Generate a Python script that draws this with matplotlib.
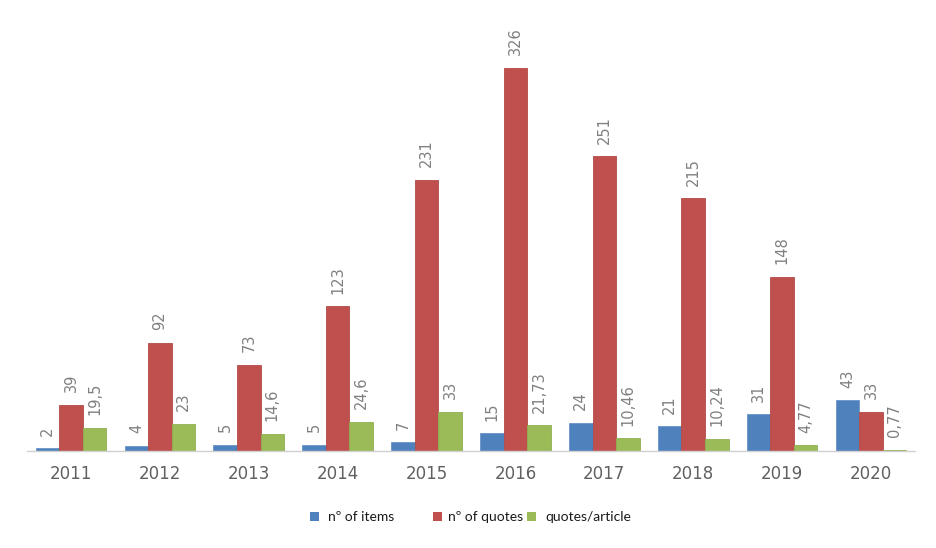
import matplotlib
matplotlib.use("Agg")
import matplotlib.pyplot as plt
from matplotlib.patches import Rectangle
import numpy as np

years = ["2011", "2012", "2013", "2014", "2015", "2016", "2017", "2018", "2019", "2020"]
items = [2, 4, 5, 5, 7, 15, 24, 21, 31, 43]
quotes = [39, 92, 73, 123, 231, 326, 251, 215, 148, 33]
qpa = [19.5, 23, 14.6, 24.6, 33, 21.73, 10.46, 10.24, 4.77, 0.77]
items_lbl = ["2", "4", "5", "5", "7", "15", "24", "21", "31", "43"]
quotes_lbl = ["39", "92", "73", "123", "231", "326", "251", "215", "148", "33"]
qpa_lbl = ["19,5", "23", "14,6", "24,6", "33", "21,73", "10,46", "10,24", "4,77", "0,77"]

series = [
    ("nº of items", items, items_lbl, "#4F81BD", "#6A93C8"),
    ("nº of quotes", quotes, quotes_lbl, "#C0504D", "#B24A47"),
    ("quotes/article", qpa, qpa_lbl, "#9BBB59", "#8FB050"),
]

fig = plt.figure(figsize=(9.36, 5.48), dpi=100)
ax = fig.add_axes([0.0284, 0.1776, 0.9496, 0.784])

x = np.arange(len(years))
w = 0.265
for i, (name, vals, lbls, col, ec) in enumerate(series):
    pos = x + (i - 1) * w
    bars = ax.bar(pos, vals, width=w, color=col, edgecolor=ec, linewidth=0.6, label=name)
    for b, lab in zip(bars, lbls):
        ax.annotate(lab, (b.get_x() + b.get_width() / 2, b.get_height()),
                    xytext=(0, 9), textcoords="offset points",
                    rotation=90, ha="center", va="bottom",
                    fontsize=10.5, color="#808080", family="DejaVu Sans")

ax.set_xlim(-0.5, len(years) - 0.5)
ax.set_ylim(0, 366)
ax.set_xticks(x)
ax.set_xticklabels(years, fontsize=12, color="#606060", family="DejaVu Sans")
ax.tick_params(axis="x", length=0, pad=10)
ax.set_yticks([])
for s in ["top", "right", "left"]:
    ax.spines[s].set_visible(False)
ax.spines["bottom"].set_color("#D0D0D0")
ax.spines["bottom"].set_linewidth(1.0)

# legend drawn manually to match the uneven spacing of the original
W, H = 936.0, 548.0
leg_items = [(310, 328, series[0]), (433, 448, series[1]), (527, 545, series[2])]
for sx, tx, (name, _, _, col, _) in leg_items:
    fig.patches.append(Rectangle((sx / W, (548 - 521) / H), 9 / W, 9 / H,
                                 transform=fig.transFigure, facecolor=col,
                                 edgecolor="none"))
    fig.text(tx / W, 1 - 517 / H, name, ha="left", va="center",
             fontsize=10, family="Lato", color="#1A1A1A")

fig.savefig("out.png", dpi=100)
